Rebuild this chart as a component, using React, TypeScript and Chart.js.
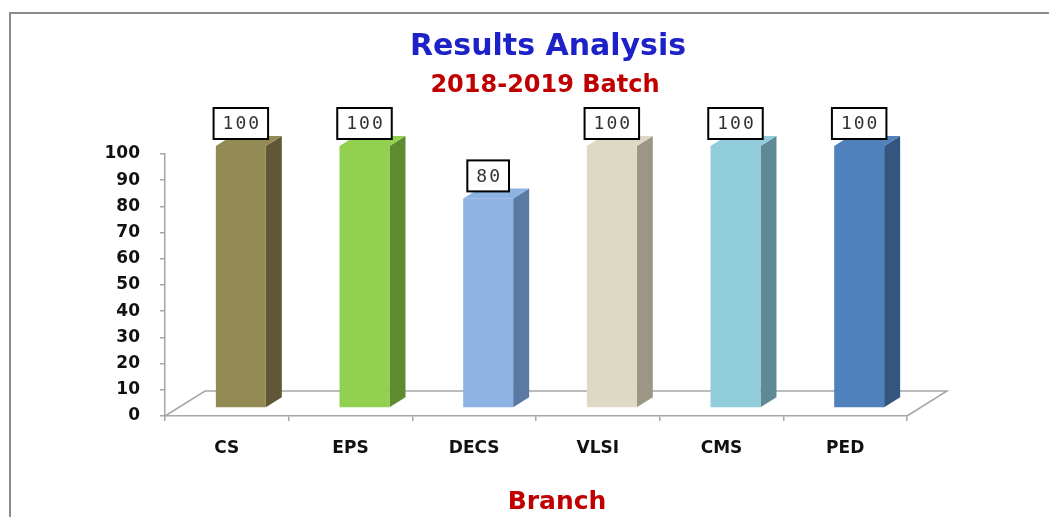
import React, { useEffect, useRef } from "react";
import { Chart, registerables } from "chart.js";

Chart.register(...registerables);

const categories = ["CS", "EPS", "DECS", "VLSI", "CMS", "PED"];
const passPercent = [100, 100, 80, 100, 100, 100];
const frontColors = ["#948a54", "#92d050", "#8db3e2", "#ddd9c4", "#92cddc", "#4f81bd"];
const sideColors = ["#5f5735", "#5e8a32", "#5a7aa3", "#9b9784", "#5e8a97", "#33567f"];
const titleText = "Results Analysis";
const subtitleText = "2018-2019 Batch";
const axisTitleText = "Branch";

const W = 1049;
const H = 517;

const FRONT_DX = 14;
const FRONT_DY = -8;
const SIDE_DX = 16;
const SIDE_DY = -10;
const FLOOR_DX = 40;
const FLOOR_DY = -25;

const bar3dPlugin = {
  id: "bar3d",
  beforeDatasetsDraw(chart: any) {
    const { ctx, chartArea } = chart;
    const { left, right, bottom } = chartArea;
    ctx.save();
    ctx.strokeStyle = "#a6a6a6";
    ctx.lineWidth = 1.5;
    ctx.beginPath();
    ctx.moveTo(left, bottom);
    ctx.lineTo(left + FLOOR_DX, bottom + FLOOR_DY);
    ctx.lineTo(right + FLOOR_DX, bottom + FLOOR_DY);
    ctx.lineTo(right, bottom);
    ctx.stroke();
    ctx.restore();
  },
  afterDatasetsDraw(chart: any) {
    const { ctx } = chart;
    const meta = chart.getDatasetMeta(0);
    const data = chart.data.datasets[0].data;
    ctx.save();
    meta.data.forEach((el: any, i: number) => {
      const p = el.getProps(["x", "y", "base", "width"], true);
      const l = p.x - p.width / 2 + FRONT_DX;
      const r = l + p.width;
      const t = p.y + FRONT_DY;
      const b = p.base + FRONT_DY;
      // side
      ctx.fillStyle = sideColors[i];
      ctx.beginPath();
      ctx.moveTo(r, t);
      ctx.lineTo(r + SIDE_DX, t + SIDE_DY);
      ctx.lineTo(r + SIDE_DX, b + SIDE_DY);
      ctx.lineTo(r, b);
      ctx.closePath();
      ctx.fill();
      // top
      ctx.fillStyle = frontColors[i];
      ctx.beginPath();
      ctx.moveTo(l, t);
      ctx.lineTo(l + SIDE_DX, t + SIDE_DY);
      ctx.lineTo(r + SIDE_DX, t + SIDE_DY);
      ctx.lineTo(r, t);
      ctx.closePath();
      ctx.fill();
      // front
      ctx.fillStyle = frontColors[i];
      ctx.fillRect(l, t, r - l, b - t);

      // data label
      const txt = String(data[i]);
      ctx.font = '18px "DejaVu Sans Mono"';
      (ctx as any).letterSpacing = "2px";
      const tw = ctx.measureText(txt).width;
      const bw = tw + 16;
      const bh = 31;
      const cx = (l + r) / 2;
      const by = t - 7 - bh;
      ctx.fillStyle = "#ffffff";
      ctx.fillRect(cx - bw / 2, by, bw, bh);
      ctx.strokeStyle = "#000000";
      ctx.lineWidth = 2;
      ctx.strokeRect(cx - bw / 2, by, bw, bh);
      ctx.fillStyle = "#333333";
      ctx.textAlign = "center";
      ctx.textBaseline = "middle";
      ctx.fillText(txt, cx + 1, by + bh / 2 + 1);
      (ctx as any).letterSpacing = "0px";
    });
    ctx.restore();
  },
  afterDraw(chart: any) {
    const { ctx } = chart;
    ctx.save();
    ctx.textAlign = "center";
    ctx.textBaseline = "alphabetic";
    ctx.font = 'bold 30px "DejaVu Sans"';
    ctx.fillStyle = "#1c22c8";
    ctx.fillText(titleText, 548, 55);
    ctx.font = 'bold 24px "DejaVu Sans"';
    ctx.fillStyle = "#c00000";
    ctx.fillText(subtitleText, 545, 92);
    ctx.font = 'bold 25px "DejaVu Sans"';
    ctx.fillText(axisTitleText, 557, 509);
    ctx.restore();
  },
};

export default function App() {
  const ref = useRef<HTMLCanvasElement | null>(null);
  useEffect(() => {
    if (!ref.current) return;
    const chart = new Chart(ref.current, {
      type: "bar",
      data: {
        labels: categories,
        datasets: [
          {
            label: "Result %",
            data: passPercent,
            backgroundColor: "rgba(0,0,0,0)",
            borderWidth: 0,
            barPercentage: 0.404,
            categoryPercentage: 1,
          },
        ],
      },
      options: {
        responsive: false,
        animation: false,
        devicePixelRatio: 1,
        layout: { padding: { top: 154, right: 142, bottom: 0, left: 0 } },
        plugins: {
          legend: { display: false },
          tooltip: { enabled: false },
          title: { display: false },
        },
        scales: {
          x: {
            grid: {
              display: true,
              drawOnChartArea: false,
              offset: true,
              tickLength: 5,
              color: "#a6a6a6",
              lineWidth: 1.5,
            },
            border: { display: true, color: "#a6a6a6", width: 1.5 },
            ticks: {
              color: "#111111",
              font: { family: "DejaVu Sans", weight: "bold", size: 17 },
              padding: 17,
            },
            afterFit: (s: any) => {
              s.height = 101;
            },
          },
          y: {
            min: 0,
            max: 100,
            grid: {
              display: true,
              drawOnChartArea: false,
              tickLength: 5,
              color: "#a6a6a6",
              lineWidth: 1.5,
            },
            border: { display: true, color: "#a6a6a6", width: 1.5 },
            ticks: {
              stepSize: 10,
              color: "#111111",
              font: { family: "DejaVu Sans", weight: "bold", size: 17 },
              padding: 20,
            },
            afterFit: (s: any) => {
              s.width = 165;
            },
          },
        },
      },
      plugins: [bar3dPlugin],
    } as any);
    return () => chart.destroy();
  }, []);
  return (
    <div style={{ position: "fixed", left: 0, top: 0, width: W, height: H, background: "#ffffff" }}>
      <canvas ref={ref} width={W} height={H} style={{ position: "absolute", left: 0, top: 0, width: W, height: H }} />
      <div
        style={{
          position: "absolute",
          left: 9,
          top: 12,
          width: W - 9,
          height: H - 12,
          borderTop: "2px solid #8c8c8c",
          borderLeft: "2px solid #8c8c8c",
          boxSizing: "border-box",
          pointerEvents: "none",
        }}
      />
    </div>
  );
}
